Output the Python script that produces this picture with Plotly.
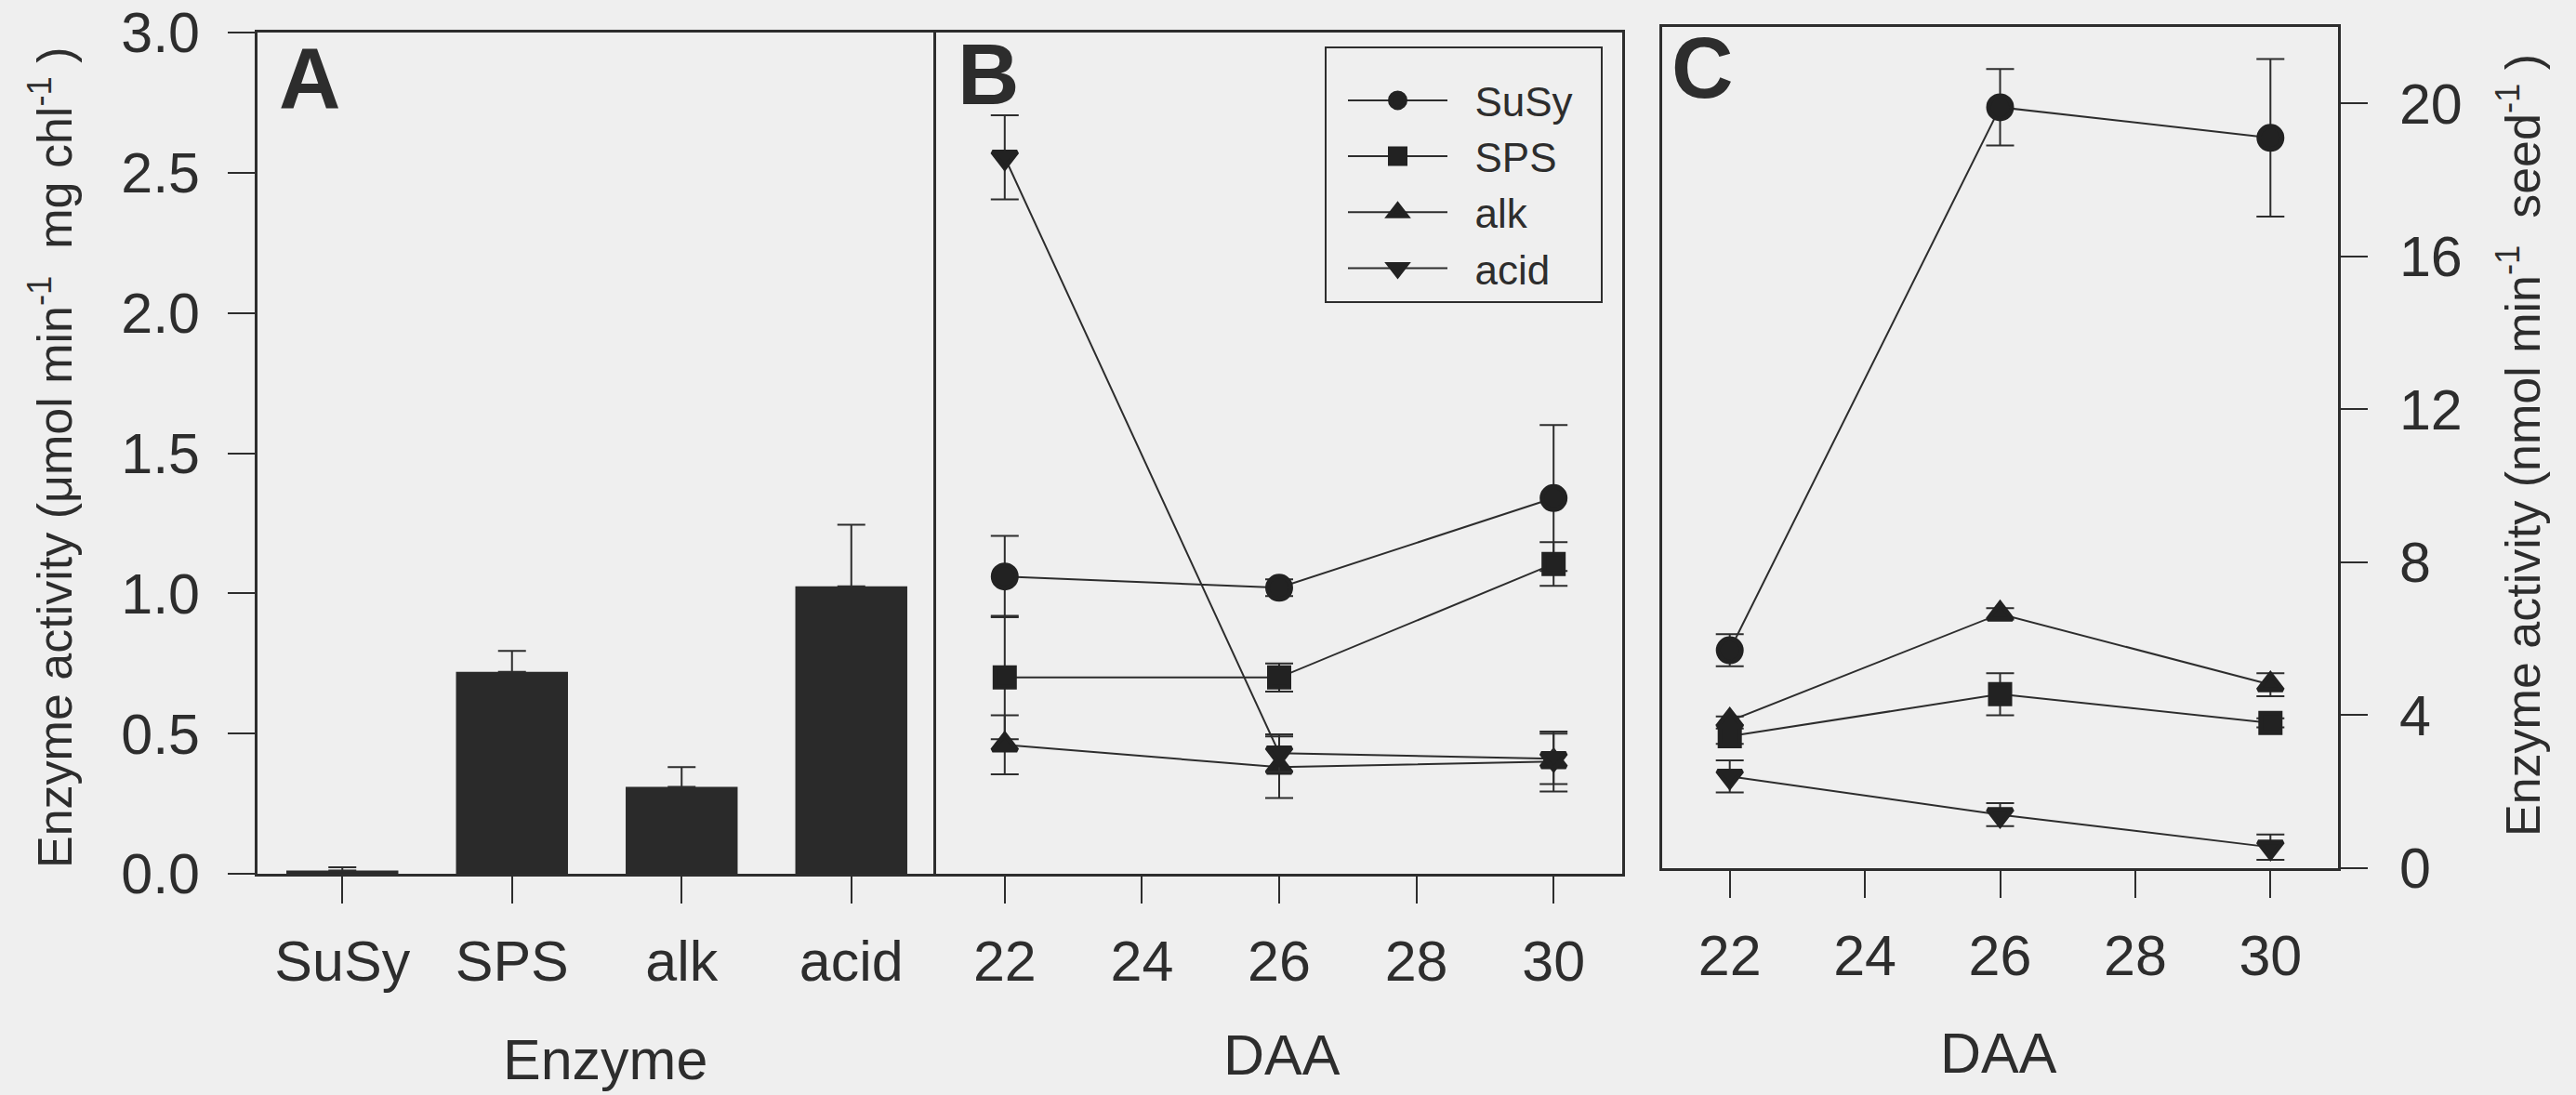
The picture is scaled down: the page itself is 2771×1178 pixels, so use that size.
import plotly.graph_objects as go

# ---- data -------------------------------------------------------------
enzymes = ["SuSy", "SPS", "alk", "acid"]

# Panel A: activity per chlorophyll (µmol min-1 mg chl-1)
chl_activity = [0.012, 0.72, 0.31, 1.025]
chl_error = [0.011, 0.075, 0.07, 0.22]

# Panels B and C: days after anthesis
daa = [22, 26, 30]
daa_ticks = [22, 24, 26, 28, 30]

# Panel B: µmol min-1 mg chl-1
b_susy = [1.06, 1.02, 1.34]
b_susy_err = [0.145, 0.03, 0.26]
b_sps = [0.70, 0.70, 1.105]
b_sps_err = [0.22, 0.05, 0.078]
b_alk = [0.46, 0.38, 0.40]
b_alk_err = [0.105, 0.11, 0.107]
b_acid = [2.555, 0.43, 0.41]
b_acid_err = [0.15, 0.067, 0.09]

# Panel C: nmol min-1 seed-1
c_susy = [5.7, 19.9, 19.1]
c_susy_err = [0.42, 1.0, 2.06]
c_sps = [3.45, 4.55, 3.8]
c_sps_err = [0.2, 0.55, 0.12]
c_alk = [3.85, 6.65, 4.8]
c_alk_err = [0.12, 0.15, 0.3]
c_acid = [2.4, 1.4, 0.55]
c_acid_err = [0.42, 0.3, 0.33]

# ---- styling ----------------------------------------------------------
W, H = 2771, 1178
BG = "#efefef"
INK = "#2d2d2d"
FONT = "Liberation Sans, Arial, sans-serif"
TICK_FONT = dict(family=FONT, size=61, color=INK)
NB = "\u00a0"


def px_x(v):
    return v / W


def px_y(v):
    return 1 - v / H


fig = go.Figure()

# Panel A bars
fig.add_trace(go.Bar(
    x=enzymes, y=chl_activity, width=0.66,
    marker=dict(color="#2a2a2a", line=dict(width=0)),
    error_y=dict(type="data", symmetric=False, array=chl_error,
                 arrayminus=[0] * len(chl_error),
                 color=INK, thickness=2, width=15),
    xaxis="x", yaxis="y", showlegend=False,
))

# (name, symbol, marker size); a 5 px outline of the same colour enlarges each symbol
series = [
    ("SuSy", "circle", 25),
    ("SPS", "square", 21),
    ("alk", "triangle-up", 23),
    ("acid", "triangle-down", 23),
]
b_vals = [(b_susy, b_susy_err), (b_sps, b_sps_err), (b_alk, b_alk_err), (b_acid, b_acid_err)]
c_vals = [(c_susy, c_susy_err), (c_sps, c_sps_err), (c_alk, c_alk_err), (c_acid, c_acid_err)]


def marker(sym, size):
    return dict(symbol=sym, size=size, color="#222222",
                line=dict(width=5, color="#222222"))


for (name, sym, size), (yv, ev) in zip(series, b_vals):
    fig.add_trace(go.Scatter(
        x=daa, y=yv, mode="lines+markers", name=NB * 2 + name + NB * 2,
        line=dict(color=INK, width=2),
        marker=marker(sym, size),
        error_y=dict(type="data", array=ev, color=INK, thickness=2, width=15),
        xaxis="x2", yaxis="y2", showlegend=True,
    ))

for (name, sym, size), (yv, ev) in zip(series, c_vals):
    fig.add_trace(go.Scatter(
        x=daa, y=yv, mode="lines+markers", name=name,
        line=dict(color=INK, width=2),
        marker=marker(sym, size),
        error_y=dict(type="data", array=ev, color=INK, thickness=2, width=15),
        xaxis="x3", yaxis="y3", showlegend=False,
    ))

axis_common = dict(
    showline=True, linecolor=INK, linewidth=2.5, mirror=True,
    showgrid=False, zeroline=False, ticks="outside", ticklen=29,
    tickwidth=2, tickcolor=INK, tickfont=TICK_FONT, automargin=False,
)

ab_y = [px_y(940), px_y(35)]
c_y = [px_y(934), px_y(29)]

fig.update_layout(
    template="none",
    width=W, height=H,
    margin=dict(l=0, r=0, t=0, b=0, pad=0),
    paper_bgcolor=BG, plot_bgcolor=BG,
    font=dict(family=FONT, color=INK),
    xaxis=dict(axis_common, domain=[px_x(277), px_x(1007)], type="category",
               range=[-0.5, 3.5], anchor="y", ticklabelstandoff=10),
    yaxis=dict(axis_common, domain=ab_y, range=[0, 3], dtick=0.5, mirror=False,
               tickformat=".1f", anchor="x", ticklabelstandoff=18),
    xaxis2=dict(axis_common, domain=[px_x(1007), px_x(1745)], range=[21, 31],
                tickvals=daa_ticks, anchor="y2", ticklabelstandoff=10),
    yaxis2=dict(axis_common, domain=ab_y, range=[0, 3], ticks="",
                showticklabels=False, anchor="x2"),
    xaxis3=dict(axis_common, domain=[px_x(1788), px_x(2515)], range=[21, 31],
                tickvals=daa_ticks, anchor="y3", ticklabelstandoff=10),
    yaxis3=dict(axis_common, domain=c_y, range=[0, 22], tickvals=[0, 4, 8, 12, 16, 20],
                side="right", anchor="x3", ticklabelstandoff=22),
    legend=dict(
        x=px_x(1425), y=px_y(50), xanchor="left", yanchor="top",
        bgcolor=BG, bordercolor=INK, borderwidth=2,
        font=dict(family=FONT, size=44, color=INK),
        title=dict(text=NB, font=dict(family=FONT, size=16, color=INK)),
        itemwidth=107, indentation=18, itemsizing="trace",
    ),
    showlegend=True,
)

annotations = [
    dict(text="<b>A</b>", x=px_x(298), y=px_y(84)),
    dict(text="<b>B</b>", x=px_x(1028), y=px_y(80)),
    dict(text="<b>C</b>", x=px_x(1796), y=px_y(73)),
]
for a in annotations:
    fig.add_annotation(xref="paper", yref="paper", xanchor="left", yanchor="middle",
                       showarrow=False, font=dict(family=FONT, size=92, color=INK), **a)

titles = [
    dict(text="Enzyme", x=px_x(651), y=px_y(1140), textangle=0, size=61),
    dict(text="DAA", x=px_x(1379), y=px_y(1135), textangle=0, size=61),
    dict(text="DAA", x=px_x(2150), y=px_y(1133), textangle=0, size=61),
    dict(text="Enzyme activity (μmol min<sup>-1</sup>" + NB + " mg chl<sup>-1</sup>" + NB + ")",
         x=px_x(55), y=px_y(492), textangle=-90, size=52),
    dict(text="Enzyme activity (nmol min<sup>-1</sup>" + NB + " seed<sup>-1</sup>" + NB + ")",
         x=px_x(2710), y=px_y(479), textangle=-90, size=52),
]
for t in titles:
    size = t.pop("size")
    fig.add_annotation(xref="paper", yref="paper", xanchor="center", yanchor="middle",
                       showarrow=False, font=dict(family=FONT, size=size, color=INK), **t)

fig.write_html("out.html")
